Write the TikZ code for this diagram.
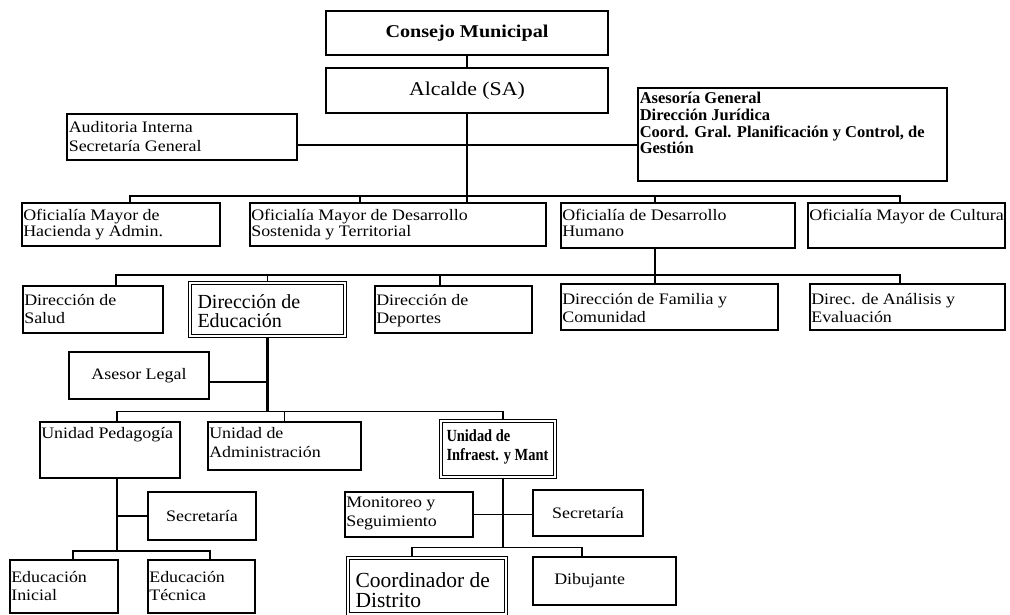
\documentclass[tikz,border=0pt]{standalone}
\usepackage{fontspec}
\setmainfont{Liberation Serif}[FakeStretch=1.12]
\newfontfamily\bigf{Liberation Serif}
\tikzset{
  box/.style={draw, line width=1.8pt, inner sep=0pt},
  dbl/.style={draw, double, double distance=1.8pt, line width=1.4pt, inner sep=0pt},
  conn/.style={line width=1.5pt},
  trunk/.style={line width=2.6pt},
  txt/.style={anchor=north west, inner sep=0pt, align=left, font=\fontsize{16}{18}\selectfont},
  txttwo/.style={txt, font=\fontsize{16}{16}\selectfont},
  ctr/.style={font=\fontsize{16}{18}\selectfont},
  bigtxt/.style={txt, font=\bigf\fontsize{20}{19}\selectfont},
}
\newcommand\mybox[7][box]{\node[#1, minimum width={(#5-#3)*1pt}, minimum height={(#6-#4)*1pt}] (#2) at ({(#3+#5)/2},{(#4+#6)/2}) {#7};}
\newcommand\mytext[5][txt]{\node[#1] (#2t) at ([xshift=#3pt,yshift=-#4pt]#2.north west) {#5};}
\newcommand\narrow[1]{\scalebox{0.85}[1]{#1}}
\begin{document}
\begin{tikzpicture}[x=1pt,y=-1pt]
\useasboundingbox (0,0) rectangle (1010,615);
\fill[white] (0,0) rectangle (1010,615);
\clip (0,0) rectangle (1010,615);

% top
\mybox[box,font=\bfseries\fontsize{18}{20}\selectfont]{cons}{326}{11}{608}{55}{Consejo Municipal}
\mybox[box,font=\fontsize{19.5}{21}\selectfont]{alc}{326}{68}{608}{113}{Alcalde (SA)}
\mybox{aud}{67}{114}{297}{160}{}
\mytext[txt,font=\fontsize{16}{19}\selectfont]{aud}{2.5}{8}{Auditoria Interna\\Secretaría General}
\mybox{aseg}{638}{88}{947}{181}{}
\mytext[txt,font=\bigf\bfseries\fontsize{16.5}{16.7}\selectfont]{aseg}{2.5}{5}{Asesoría General\\Dirección Jurídica\\Coord. Gral. Planificación y Control, de\\Gestión}

% row 2
\mybox{hac}{22}{203}{220}{246}{}
\mytext[txttwo]{hac}{2}{7}{Oficialía Mayor de\\Hacienda y Admin.}
\mybox{sos}{250}{203}{546}{246}{}
\mytext[txttwo]{sos}{2}{7}{Oficialía Mayor de Desarrollo\\Sostenida y Territorial}
\mybox{hum}{561}{203}{795}{248}{}
\mytext[txttwo]{hum}{2}{7}{Oficialía de Desarrollo\\Humano}
\mybox{cul}{808}{203}{1005}{248}{}
\mytext[txttwo]{cul}{2}{7}{Oficialía Mayor de Cultura}

% row 3
\mybox{sal}{23}{286}{163}{333}{}
\mytext{sal}{2}{9}{Dirección de\\Salud}
\mybox[dbl]{edu}{190}{283}{345}{336}{}
\mytext[bigtxt]{edu}{8}{12}{Dirección de\\Educación}
\mybox{dep}{375}{286}{532}{333}{}
\mytext{dep}{2}{9}{Dirección de\\Deportes}
\mybox{fam}{561}{284}{778}{330}{}
\mytext{fam}{2}{10}{Dirección de Familia y\\Comunidad}
\mybox{ana}{810}{284}{1005}{330}{}
\mytext{ana}{2}{10}{Direc. de Análisis y\\Evaluación}

\mybox[box,ctr]{leg}{69}{352}{209}{399}{Asesor Legal}

% row 4
\mybox{ped}{40}{422}{180}{478}{}
\mytext{ped}{2}{6}{Unidad Pedagogía}
\mybox{adm}{208}{422}{361}{470}{}
\mytext[txt,font=\fontsize{16}{19}\selectfont]{adm}{2}{6}{Unidad de\\Administración}
\mybox[dbl]{inf}{441}{421}{555}{477}{}
\mytext[txt,font=\bigf\bfseries\fontsize{17}{19}\selectfont]{inf}{6}{9}{\narrow{Unidad de}\\\narrow{Infraest. y Mant}}

\mybox[box,ctr]{seca}{148}{492}{256}{540}{Secretaría}
\mybox{mon}{345}{492}{473}{537}{}
\mytext[txt,font=\fontsize{16}{19}\selectfont]{mon}{2}{6}{Monitoreo y\\Seguimiento}
\mybox[box,ctr]{secb}{533}{490}{643}{536}{Secretaría}

% row 5
\mybox{ini}{10}{560}{118}{613}{}
\mytext{ini}{2}{12}{Educación\\Inicial}
\mybox{tec}{148}{560}{255}{613}{}
\mytext{tec}{2}{12}{Educación\\Técnica}
\mybox[dbl]{coo}{348}{558}{506}{614}{}
\mytext[txt,font=\bigf\fontsize{21.5}{20}\selectfont]{coo}{8}{15}{Coordinador de\\Distrito}
\mybox{dib}{533}{557}{676}{605}{}
\mytext{dib}{22}{17}{Dibujante}

% connectors
\draw[trunk] (cons.south) -- (alc.north);
\draw[trunk] (alc.south) -- (alc.south |- sos.north);
\path (alc.south) ++(0,82) coordinate (b1);
\draw[conn] ([xshift=9pt]hac.north) |- (b1);
\draw[conn] ([xshift=-38pt]sos.north) |- (b1);
\draw[conn] ([xshift=-23pt]hum.north) |- (b1);
\draw[conn] ([xshift=-6.5pt]cul.north) |- (b1);
\draw[conn] ([yshift=-8pt]aud.east) -- ([yshift=-8pt]aud.east -| aseg.west);

\coordinate (humT) at ([xshift=-23pt]hum.south);
\draw[trunk] (humT) -- (humT |- fam.north);
\path (humT) ++(0,26) coordinate (b2);
\draw[conn] ([xshift=23pt]sal.north) |- (b2);
\draw[conn] (edu.north) |- (b2);
\draw[conn] ([xshift=-13.5pt]dep.north) |- (b2);
\draw[conn] ([xshift=-7.5pt]ana.north) |- (b2);

\draw[trunk] (edu.south) -- ++(0,75) coordinate (b3);
\draw[conn] ([yshift=-6.5pt]leg.east) -- ([yshift=-6.5pt]leg.east -| edu.south);
\draw[conn] ([xshift=7pt]ped.north) |- (b3);
\draw[conn] (adm.north) |- (b3);
\draw[conn] ([xshift=5pt]inf.north) |- (b3);

\coordinate (pedT) at ([xshift=7pt]ped.south);
\draw[trunk] (pedT) -- ++(0,72) coordinate (b4);
\draw[conn] (seca.west) -- (seca.west -| pedT);
\draw[conn] ([xshift=9pt]ini.north) |- (b4);
\draw[conn] ([xshift=8.5pt]tec.north) |- (b4);

\coordinate (infT) at ([xshift=5pt]inf.south);
\draw[trunk] (infT) -- ++(0,70) coordinate (b5);
\draw[conn] (mon.east) -- (mon.east -| secb.west);
\draw[conn] ([xshift=-15pt]coo.north) |- (b5);
\draw[conn] ([xshift=-22.5pt]dib.north) |- (b5);
\end{tikzpicture}
\end{document}
